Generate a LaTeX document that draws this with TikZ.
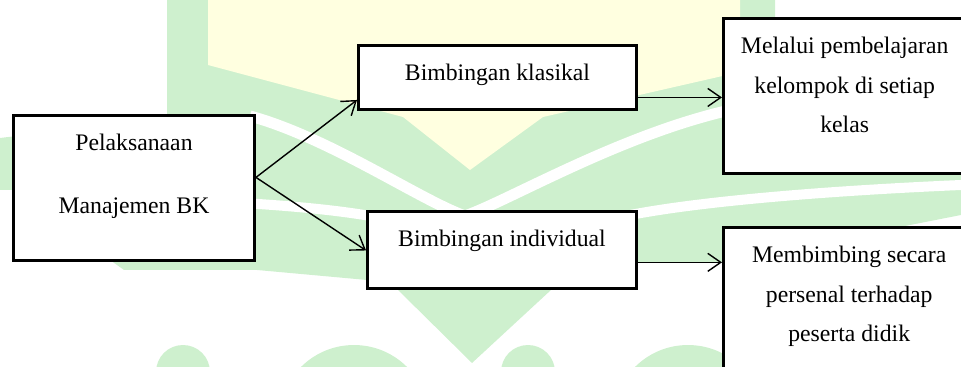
\documentclass[tikz,border=0pt]{standalone}
\usepackage{fontspec}
\setmainfont{Liberation Serif}
\usepackage{tikz}
\usetikzlibrary{arrows.meta}
\usetikzlibrary{calc}

\definecolor{wmgreen}{RGB}{206,240,206}
\definecolor{wmyellow}{RGB}{255,255,224}

\begin{document}
\begin{tikzpicture}[x=0.02cm,y=-0.02cm,
	kotak/.style={draw,line width=1.7pt,fill=white,anchor=north,align=center,
		inner xsep=0pt,inner ysep=0.37cm,font=\fontsize{13.5}{22.3}\selectfont},
	panah/.style={line width=0.8pt,-{Straight Barb[length=2.6mm,width=3.6mm]}}]
\useasboundingbox (0,0) rectangle (961,367);
\clip (0,0) rectangle (961,367);

% latar
\fill[wmgreen] (0,138) -- (167,118) -- (167,0) -- (775,0) -- (775,105) -- (961,150) -- (961,215) -- (722,262) -- (640,262) -- (551,290) -- (472,363) -- (398,290) -- (367,280) -- (257,270) -- (124,270) -- (12,190) -- (0,190) -- cycle;
\fill[wmyellow] (208,0) -- (740,0) -- (740,72) -- (543,117) -- (470,170) -- (403,117) -- (208,65) -- cycle;
\draw[white,line width=0.22cm] (250,116) .. controls (330,138) and (420,200) .. (465,216) .. controls (510,200) and (620,135) .. (730,110);
\draw[white,line width=0.2cm] (0,196) .. controls (200,198) and (330,205) .. (400,222) -- (600,222) .. controls (660,205) and (800,192) .. (961,185);
\fill[wmgreen] (183,372) circle (0.54cm);
\fill[wmgreen] (354,420) circle (1.5cm);
\fill[wmgreen] (528,372) circle (0.54cm);
\fill[wmgreen] (688,420) circle (1.5cm);

% kotak
\node[kotak,minimum width=4.82cm,text depth=0.56cm] (pel) at (134,114.5) {Pelaksanaan\\[13.4pt]Manajemen BK};
\node[kotak,minimum width=5.56cm,text depth=0.2cm] (kla) at (497.5,44.5) {Bimbingan klasikal};
\node[kotak,minimum width=5.38cm,text depth=0.47cm] (ind) at (502,210.5) {Bimbingan individual};
\node[kotak,minimum width=4.85cm,text depth=0.46cm] (mel) at (844.7,17.5) {Melalui pembelajaran\\kelompok di setiap\\kelas};
\node[kotak,minimum width=5.03cm,text depth=1.2cm] (mem) at (849.2,226.5) {Membimbing secara\\persenal terhadap\\peserta didik};

% panah
\draw[panah] (pel.5) -- (kla.189.2);
\draw[panah] (pel.5) -- (ind.west);
\draw[panah] (kla.352.5) -- (kla.352.5 -| mel.west);
\draw[panah] (ind.355.5) -- (ind.355.5 -| mem.west);

\end{tikzpicture}
\end{document}
